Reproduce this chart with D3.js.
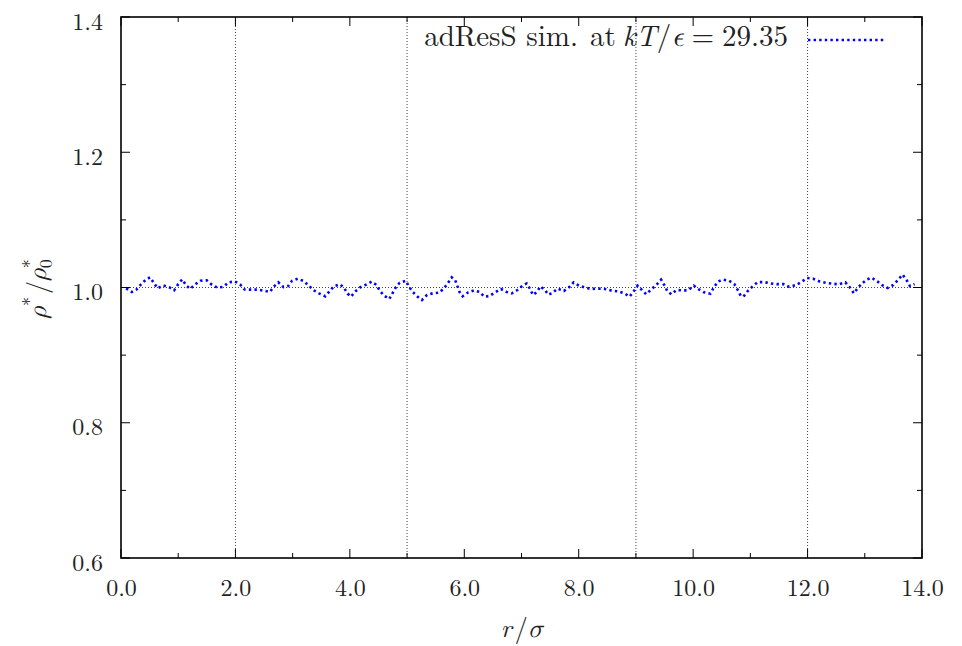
<!DOCTYPE html>
<html><head><meta charset="utf-8">
<script src="https://cdn.jsdelivr.net/npm/d3@7"></script>
</head><body style="margin:0;background:#fff">
<svg id="c" width="962" height="646" style="display:block"></svg>
<script>
// data
const rVals = [0.09,0.19,0.27,0.35,0.44,0.51,0.58,0.64,0.74,0.85,0.93,1.00,1.07,1.14,1.21,1.30,1.39,1.50,1.59,1.68,1.79,1.88,1.99,2.08,2.16,2.27,2.38,2.50,2.60,2.68,2.75,2.84,2.92,2.99,3.09,3.19,3.28,3.36,3.46,3.57,3.64,3.72,3.83,3.90,3.96,4.02,4.09,4.18,4.28,4.38,4.46,4.52,4.59,4.69,4.80,4.87,4.98,5.03,5.10,5.18,5.26,5.35,5.45,5.56,5.64,5.71,5.78,5.84,5.88,5.92,5.97,6.07,6.17,6.27,6.35,6.44,6.54,6.64,6.74,6.83,6.93,7.02,7.09,7.15,7.20,7.27,7.33,7.41,7.47,7.54,7.63,7.74,7.83,7.91,8.00,8.11,8.22,8.34,8.46,8.58,8.68,8.80,8.89,8.96,9.03,9.11,9.18,9.27,9.36,9.44,9.50,9.55,9.62,9.71,9.81,9.91,10.01,10.10,10.19,10.30,10.36,10.43,10.52,10.63,10.72,10.78,10.83,10.88,10.95,11.04,11.13,11.24,11.36,11.46,11.58,11.68,11.80,11.90,11.99,12.10,12.21,12.32,12.43,12.55,12.66,12.74,12.81,12.87,12.95,13.04,13.12,13.22,13.31,13.40,13.50,13.58,13.66,13.73,13.79,13.87];
const rhoVals = [0.9988,0.9934,0.9970,1.0047,1.0120,1.0150,1.0060,0.9988,1.0030,1.0000,0.9960,1.0050,1.0120,1.0030,0.9980,1.0050,1.0100,1.0106,1.0040,1.0000,1.0010,1.0076,1.0090,1.0047,0.9970,0.9968,0.9968,0.9953,0.9934,1.0020,1.0076,1.0007,1.0020,1.0100,1.0130,1.0096,1.0030,0.9963,0.9914,0.9870,0.9938,1.0017,1.0047,0.9993,0.9910,0.9865,0.9938,1.0002,1.0040,1.0086,1.0040,0.9958,0.9884,0.9830,0.9998,1.0070,1.0100,1.0017,0.9934,0.9865,0.9815,0.9890,0.9914,0.9924,0.9983,1.0060,1.0150,1.0110,1.0020,0.9929,0.9870,0.9929,0.9958,0.9934,0.9865,0.9874,0.9929,0.9978,0.9934,0.9914,0.9963,1.0030,1.0060,0.9978,0.9890,0.9934,1.0017,0.9963,0.9894,0.9919,0.9983,0.9948,1.0002,1.0076,1.0030,0.9998,0.9978,0.9983,0.9978,0.9953,0.9943,0.9914,0.9865,0.9943,1.0027,0.9958,0.9900,0.9973,1.0040,1.0116,1.0030,0.9943,0.9900,0.9963,0.9958,0.9958,1.0027,0.9973,0.9929,0.9909,0.9998,1.0086,1.0116,1.0100,1.0050,0.9963,0.9880,0.9865,0.9943,1.0017,1.0080,1.0080,1.0060,1.0050,1.0050,1.0010,1.0037,1.0086,1.0140,1.0130,1.0090,1.0070,1.0057,1.0047,1.0076,1.0000,0.9914,0.9983,1.0060,1.0120,1.0145,1.0090,1.0030,0.9993,1.0037,1.0110,1.0190,1.0110,1.0020,1.0050];
const xTicks = [0,2,4,6,8,10,12,14];
const yTicks = [0.6,0.8,1.0,1.2,1.4];
const xGrid = [2,5,9,12];
const yGrid = [1.0];
const legendLabel = ["adResS sim.", "at", "kT", "/", "ϵ", "=", "29.35"];

const RM = "'Latin Modern Roman','Liberation Serif',serif";
const GR = "'Latin Modern Math','Liberation Serif',serif";
const TXT = "#222";

const svg = d3.select("#c");
const L=121, R=922, T=17, B=558;
const x = d3.scaleLinear().domain([0,14]).range([L,R]);
const y = d3.scaleLinear().domain([0.6,1.4]).range([B,T]);

// grid
svg.append("g").selectAll("line").data(xGrid).join("line")
  .attr("x1",d=>x(d)).attr("x2",d=>x(d)).attr("y1",T).attr("y2",B)
  .attr("stroke","#444").attr("stroke-width",1).attr("stroke-dasharray","1,2");
svg.append("g").selectAll("line").data(yGrid).join("line")
  .attr("x1",L).attr("x2",R).attr("y1",d=>y(d)).attr("y2",d=>y(d))
  .attr("stroke","#444").attr("stroke-width",1).attr("stroke-dasharray","1,2");

// data line
const pts = rVals.map((r,i)=>[r,rhoVals[i]]);
svg.append("path").datum(pts)
  .attr("d", d3.line().x(d=>x(d[0])).y(d=>y(d[1])))
  .attr("fill","none").attr("stroke","#0000ff").attr("stroke-width",2.6)
  .attr("stroke-dasharray","2.4,3.2");

// ticks (major at labels, minor in between), mirrored on all sides
const minorX = d3.range(0,14.001,1);
const minorY = d3.range(0.6,1.4001,0.1);
const tg = svg.append("g").attr("stroke","#000").attr("stroke-width",1);
minorX.forEach(v=>{
  const l = xTicks.some(t=>Math.abs(t-v)<1e-6)?9:5;
  tg.append("line").attr("x1",x(v)).attr("x2",x(v)).attr("y1",B).attr("y2",B-l);
  tg.append("line").attr("x1",x(v)).attr("x2",x(v)).attr("y1",T).attr("y2",T+l);
});
minorY.forEach(v=>{
  const l = yTicks.some(t=>Math.abs(t-v)<1e-6)?9:5;
  tg.append("line").attr("x1",L).attr("x2",L+l).attr("y1",y(v)).attr("y2",y(v));
  tg.append("line").attr("x1",R).attr("x2",R-l).attr("y1",y(v)).attr("y2",y(v));
});

// frame
svg.append("rect").attr("x",L).attr("y",T).attr("width",R-L).attr("height",B-T)
  .attr("fill","none").attr("stroke","#000").attr("stroke-width",1.6);

// tick labels via d3 axes
const gx = svg.append("g").attr("transform",`translate(0,${B})`)
  .call(d3.axisBottom(x).tickValues(xTicks).tickFormat(d3.format(".1f")).tickSize(0).tickPadding(21));
const gy = svg.append("g").attr("transform",`translate(${L},0)`)
  .call(d3.axisLeft(y).tickValues(yTicks).tickFormat(d3.format(".1f")).tickSize(0).tickPadding(18));
[gx,gy].forEach(g=>{
  g.attr("font-family",RM).attr("font-size",24);
  g.select(".domain").remove();
  g.selectAll("text").attr("font-family",RM).attr("font-size",24).attr("fill",TXT);
});
gy.selectAll("text").attr("dy","0.5em");

// axis titles
const xt = svg.append("text").attr("x",522).attr("y",637).attr("text-anchor","middle")
  .attr("font-family",RM).attr("font-size",26).attr("fill",TXT);
xt.append("tspan").attr("font-style","italic").text("r");
xt.append("tspan").attr("dx",3).text("/");
xt.append("tspan").attr("font-family",GR).attr("font-style","italic").text("σ");

const yt = svg.append("text").attr("transform","translate(46,289) rotate(-90)").attr("text-anchor","middle")
  .attr("font-family",RM).attr("font-size",26).attr("fill",TXT);
yt.append("tspan").attr("font-family",GR).attr("font-style","italic").text("ρ");
yt.append("tspan").attr("dy",-10).attr("font-size",18).text("*");
yt.append("tspan").attr("dy",10).attr("dx",3).text("/");
yt.append("tspan").attr("font-family",GR).attr("font-style","italic").text("ρ");
yt.append("tspan").attr("dy",-10).attr("font-size",18).text("*");
yt.append("tspan").attr("dx",-9).attr("dy",16).attr("font-size",18).text("0");

// legend
const lt = svg.append("text").attr("x",788).attr("y",46).attr("text-anchor","end")
  .attr("font-family",RM).attr("font-size",29).attr("fill",TXT);
lt.append("tspan").text(legendLabel[0]);
lt.append("tspan").attr("dx",12).text(legendLabel[1]);
lt.append("tspan").attr("dx",7).attr("font-style","italic").text(legendLabel[2]);
lt.append("tspan").text(legendLabel[3]);
lt.append("tspan").attr("font-family",GR).attr("font-style","italic").text(legendLabel[4]);
lt.append("tspan").attr("dx",8).text(legendLabel[5]);
lt.append("tspan").attr("dx",8).text(legendLabel[6]);
svg.append("line").attr("x1",808).attr("x2",886).attr("y1",40).attr("y2",40)
  .attr("stroke","#0000ff").attr("stroke-width",2.6).attr("stroke-dasharray","2.4,3.2");
</script>
</body></html>
